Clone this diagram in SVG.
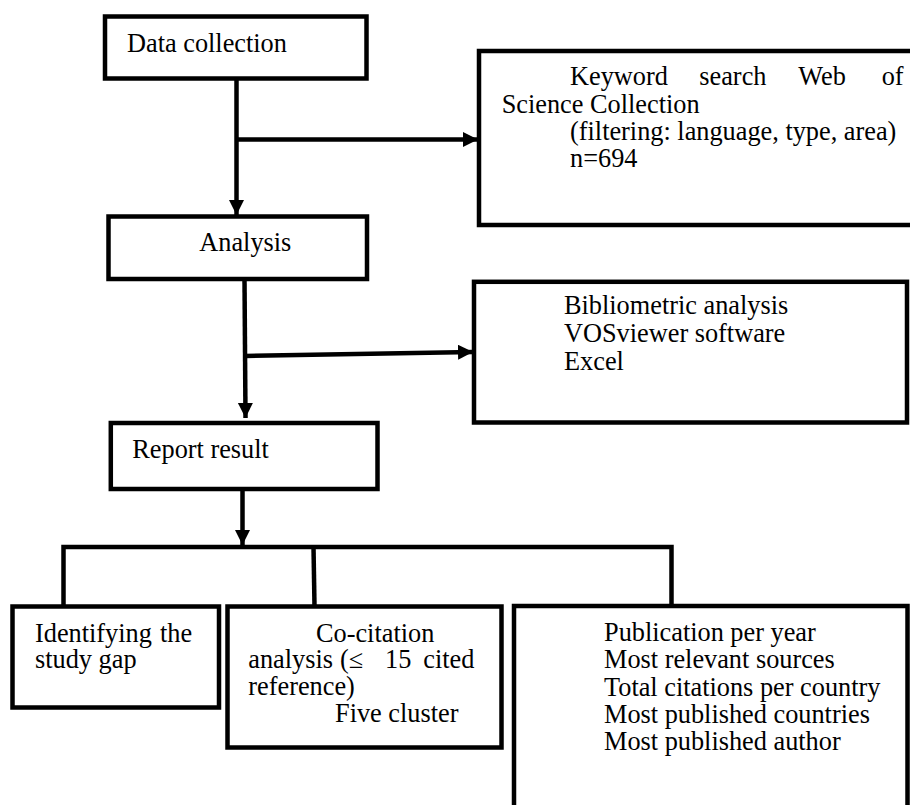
<svg xmlns="http://www.w3.org/2000/svg" width="910" height="805" viewBox="0 0 910 805">
<style>
  .box { fill: #ffffff; stroke: #000000; stroke-width: 4.5; }
  .con { fill: none; stroke: #000000; stroke-width: 4.5; }
  .t { font-family: "Liberation Serif", "Times New Roman", serif; font-size: 26.3px; fill: #000000; }
</style>
<defs>
  <marker id="ah" markerUnits="userSpaceOnUse" markerWidth="16" markerHeight="16" refX="15" refY="7.5" orient="auto">
    <path d="M0,0 L15,7.5 L0,15 Z" fill="#000000"/>
  </marker>
</defs>

<g id="connectors">
  <line class="con" x1="236.5" y1="78" x2="236.5" y2="215" marker-end="url(#ah)"/>
  <line class="con" x1="236.5" y1="139.5" x2="478" y2="139.5" marker-end="url(#ah)"/>
  <line class="con" x1="244.5" y1="279" x2="245.5" y2="418" marker-end="url(#ah)"/>
  <line class="con" x1="245" y1="356" x2="473" y2="352" marker-end="url(#ah)"/>
  <line class="con" x1="242.5" y1="487" x2="242.5" y2="545" marker-end="url(#ah)"/>
  <polyline class="con" points="63.5,607 63.5,547 671.5,547 671.5,606"/>
  <line class="con" x1="313.5" y1="547" x2="314.5" y2="606"/>
</g>

<g id="data-collection">
  <rect class="box" x="105" y="16.5" width="261.5" height="62"/>
  <text class="t" x="127" y="52">Data collection</text>
</g>

<g id="keyword-search">
  <rect class="box" x="479" y="51" width="440" height="174"/>
  <text class="t" y="85"><tspan x="570">Keyword</tspan><tspan x="699.3">search</tspan><tspan x="798.3">Web</tspan><tspan x="881.7">of</tspan></text>
  <text class="t" x="501.7" y="112.5">Science Collection</text>
  <text class="t" x="570" y="140">(filtering: language, type, area)</text>
  <text class="t" x="570" y="167">n=694</text>
</g>

<g id="analysis">
  <rect class="box" x="108.5" y="216.5" width="258.5" height="62.5"/>
  <text class="t" x="199.3" y="250.7">Analysis</text>
</g>

<g id="bibliometric">
  <rect class="box" x="474" y="281.8" width="433" height="140.7"/>
  <text class="t" x="564" y="314.3">Bibliometric analysis</text>
  <text class="t" x="564" y="342">VOSviewer software</text>
  <text class="t" x="564" y="369.7">Excel</text>
</g>

<g id="report-result">
  <rect class="box" x="110.8" y="423" width="266.7" height="66"/>
  <text class="t" x="132.3" y="457.7">Report result</text>
</g>

<g id="study-gap">
  <rect class="box" x="12.5" y="606.5" width="206.5" height="101"/>
  <text class="t" y="641.7"><tspan x="35">Identifying</tspan><tspan x="160">the</tspan></text>
  <text class="t" x="35" y="668.3">study gap</text>
</g>

<g id="co-citation">
  <rect class="box" x="227.5" y="606.5" width="274" height="141"/>
  <text class="t" x="316" y="641.7">Co-citation</text>
  <text class="t" y="668.3"><tspan x="248.3">analysis</tspan><tspan x="340">(≤</tspan><tspan x="385">15</tspan><tspan x="423.3">cited</tspan></text>
  <text class="t" x="248.3" y="695">reference)</text>
  <text class="t" x="335" y="721.7">Five cluster</text>
</g>

<g id="publication-metrics">
  <rect class="box" x="514" y="606" width="393.5" height="220"/>
  <text class="t" x="604" y="641">Publication per year</text>
  <text class="t" x="604" y="668.3">Most relevant sources</text>
  <text class="t" x="604" y="695.7">Total citations per country</text>
  <text class="t" x="604" y="722.7">Most published countries</text>
  <text class="t" x="604" y="750">Most published author</text>
</g>
</svg>
